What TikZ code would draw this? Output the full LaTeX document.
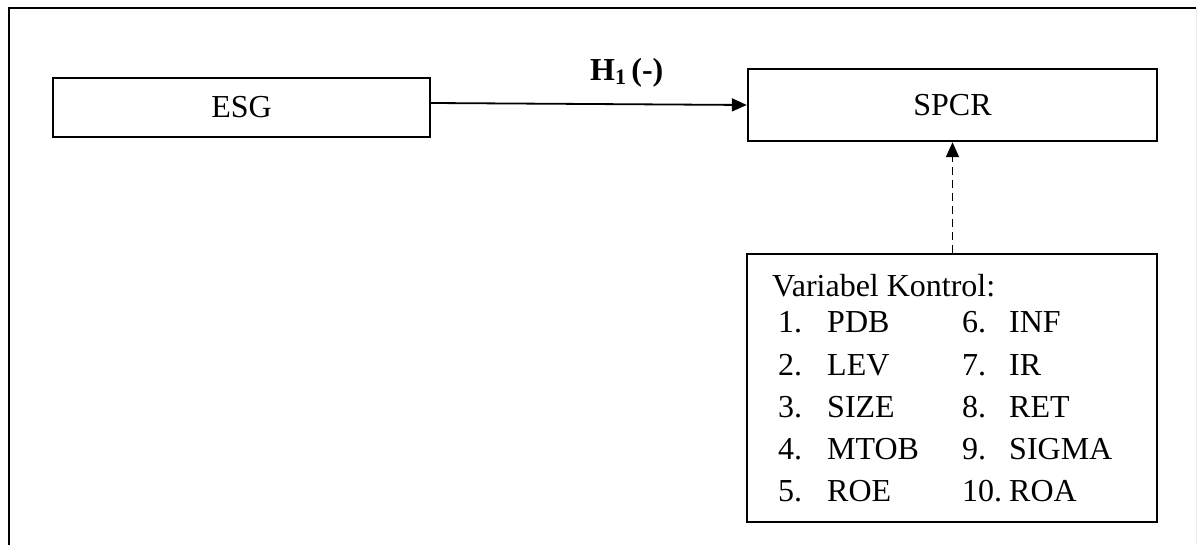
\documentclass[tikz,border=0pt]{standalone}
\usepackage{fontspec}
\setmainfont{Liberation Serif}
\usetikzlibrary{arrows.meta}
\begin{document}
\begin{tikzpicture}[x=1pt,y=-1pt,
  box/.style={draw,line width=2.4pt,inner sep=0pt,font=\fontsize{32}{38}\selectfont},
  txt/.style={anchor=base west,inner sep=0pt,font=\fontsize{32}{38}\selectfont},
  arr/.style={line width=1.8pt,-{Triangle[length=15pt,width=13pt]}}]
\useasboundingbox (0,0) rectangle (1197,545);
% outer frame
\draw[line width=2.4pt] (9,545) -- (9,8) -- (1196,8);
\draw[line width=0.8pt,gray!15] (1196,8) -- (1196,545);
% boxes
\node[box,minimum width=377pt,minimum height=59pt] (ESG) at (241.5,107.5) {ESG};
\node[box,minimum width=409pt,minimum height=72pt] (SPCR) at (952.5,105) {SPCR};
\node[box,minimum width=410pt,minimum height=268pt] (ctrl) at (952,388) {};
% arrows
\draw[arr] ([yshift=4.5pt]ESG.east) -- (SPCR.west);
\node[txt,font=\fontsize{32}{38}\selectfont\bfseries] (H1) at (590,81) {H\raisebox{-4pt}{\fontsize{22}{26}\selectfont 1}\,(-)};
\draw[arr,dash pattern=on 8pt off 5pt] (ctrl.north -| SPCR.south) -- (SPCR.south);
% control list
\node[txt] (vk) at (772,297) {Variabel Kontrol:};
\node[txt] (n1) at (778,333) {1.};  \node[txt] (v1) at (827,333) {PDB};
\node[txt] (n2) at (778,375) {2.};  \node[txt] (v2) at (827,375) {LEV};
\node[txt] (n3) at (778,417) {3.};  \node[txt] (v3) at (827,417) {SIZE};
\node[txt] (n4) at (778,459) {4.};  \node[txt] (v4) at (827,459) {MTOB};
\node[txt] (n5) at (778,501) {5.};  \node[txt] (v5) at (827,501) {ROE};
\node[txt] (n6) at (962,333) {6.};  \node[txt] (v6) at (1009,333) {INF};
\node[txt] (n7) at (962,375) {7.};  \node[txt] (v7) at (1009,375) {IR};
\node[txt] (n8) at (962,417) {8.};  \node[txt] (v8) at (1009,417) {RET};
\node[txt] (n9) at (962,459) {9.};  \node[txt] (v9) at (1009,459) {SIGMA};
\node[txt] (n10) at (962,501) {10.}; \node[txt] (v10) at (1009,501) {ROA};
\end{tikzpicture}
\end{document}
